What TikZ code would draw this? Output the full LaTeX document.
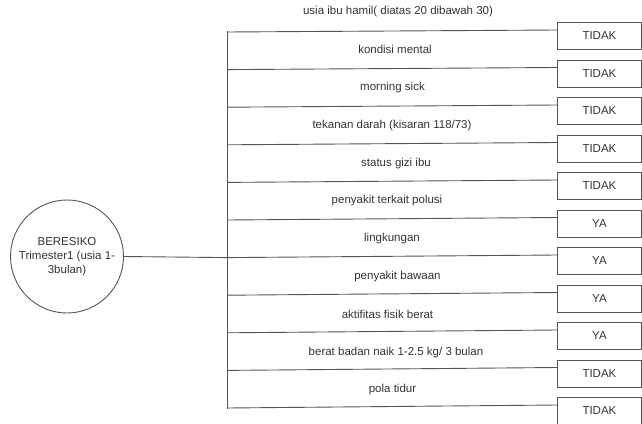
\documentclass[tikz,border=0pt]{standalone}
\usepackage{fontspec}
\setmainfont{Liberation Sans}
\definecolor{ln}{HTML}{555555}
\definecolor{tx}{HTML}{333333}
\begin{document}
\begin{tikzpicture}[x=1pt,y=1pt,
  every node/.style={text=tx,font=\fontsize{11.5}{14}\selectfont},
  conn/.style={draw=ln,line width=0.9pt},
  ansbox/.style={draw=ln,line width=0.9pt,minimum width=84pt,minimum height=27pt,inner sep=0pt,anchor=north west},
  lbl/.style={inner sep=0pt,anchor=center},
  circ/.style={draw=ln,line width=0.9pt,circle,minimum size=113pt,inner sep=0pt,align=center}]
\useasboundingbox (0,0) rectangle (642,-423);
\node[circ] (c) at (67,-256.5) {BERESIKO\\Trimester1 (usia 1-\\3bulan)};
\coordinate (ttop) at (227,-31);
\coordinate (tbot) at (227,-408.5);
\draw[conn] (ttop) -- (tbot);
\coordinate (hub) at (227,-257.6);
\draw[conn] (c.east) -- (hub);
\foreach \i/\ans/\lx/\txt in {
 0/TIDAK/398/{usia ibu hamil( diatas 20 dibawah 30)},
 1/TIDAK/395/{kondisi mental},
 2/TIDAK/392.5/{morning sick},
 3/TIDAK/392/{tekanan darah (kisaran 118/73)},
 4/TIDAK/396/{status gizi ibu},
 5/YA/387/{penyakit terkait polusi},
 6/YA/392/{lingkungan},
 7/YA/397.5/{penyakit bawaan},
 8/YA/387.5/{aktifitas fisik berat},
 9/TIDAK/396/{berat badan naik 1-2.5 kg/ 3 bulan},
 10/TIDAK/392.5/{pola tidur}}{
  \node[ansbox] (b\i) at (557,{-22-37.5*\i}) {\ans};
  \coordinate (l\i) at (227,{-32-37.6*\i});
  \draw[conn] (l\i) -- ([yshift=-8pt]b\i.north west);
  \node[lbl] (t\i) at (\lx,{-12-37.8*\i}) {\txt};
}
\end{tikzpicture}
\end{document}
